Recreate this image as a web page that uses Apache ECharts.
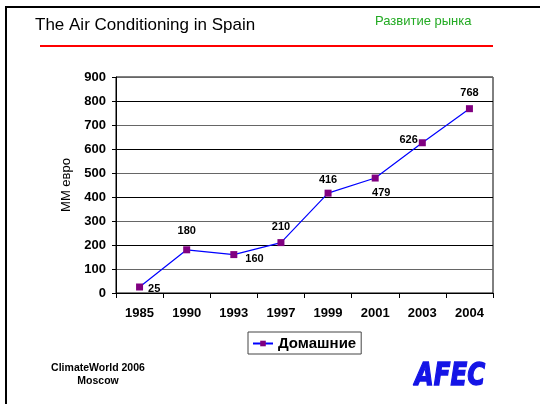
<!DOCTYPE html>
<html>
<head>
<meta charset="utf-8">
<script src="https://cdn.jsdelivr.net/npm/echarts@6/dist/echarts.min.js"></script>
<style>
  html, body { margin: 0; padding: 0; background: #fff; }
  #chart { width: 540px; height: 404px; }
</style>
</head>
<body>
<div id="chart"></div>
<script>
const years = ['1985', '1990', '1993', '1997', '1999', '2001', '2003', '2004']
const domestic = [25, 180, 160, 210, 416, 479, 626, 768]
const yTicks = { min: 0, max: 900, interval: 100 }

// where each value label sits relative to its point
const labelPlacement = [
  { position: 'right', offset: [0, 2] },
  { position: 'top', offset: [0, -5] },
  { position: 'right', offset: [3, 4] },
  { position: 'top', offset: [0, -2] },
  { position: 'top', offset: [0, 1] },
  { position: 'bottom', offset: [6, 1] },
  { position: 'left', offset: [4, -3] },
  { position: 'top', offset: [0, -2] },
]

const font = '"Liberation Sans", Arial, sans-serif'
const chart = echarts.init(document.getElementById('chart'))

chart.setOption({
  backgroundColor: '#fff',
  animation: false,
  textStyle: { fontFamily: font },
  grid: {
    left: 116, right: 47, top: 77, bottom: 111,
    show: true, borderColor: '#000', borderWidth: 1,
  },
  legend: {
    left: 248, top: 332,
    padding: [4, 5, 3, 4],
    borderColor: '#444', borderWidth: 1,
    itemWidth: 20, itemHeight: 7, itemGap: 4,
    textStyle: { fontFamily: font, fontSize: 15, fontWeight: 'bold', color: '#000' },
    data: ['Домашние'],
  },
  xAxis: {
    type: 'category',
    data: years,
    boundaryGap: true,
    axisLine: { lineStyle: { color: '#000', width: 1 } },
    axisTick: { show: true, length: 5, lineStyle: { color: '#000' } },
    axisLabel: { color: '#000', fontSize: 13, fontWeight: 'bold', margin: 14, interval: 0 },
  },
  yAxis: {
    type: 'value',
    ...yTicks,
    name: 'MM евро',
    nameLocation: 'middle',
    nameGap: 43,
    nameTextStyle: { color: '#000', fontSize: 13, fontFamily: font },
    axisLine: { show: true, lineStyle: { color: '#000', width: 1 } },
    axisTick: { show: true, length: 4, lineStyle: { color: '#000' } },
    axisLabel: { color: '#000', fontSize: 13, fontWeight: 'bold', margin: 10 },
    splitLine: { show: true, lineStyle: { color: ['#000', '#666'], width: 1 } },
  },
  series: [{
    name: 'Домашние',
    type: 'line',
    data: domestic.map((v, i) => ({
      value: v,
      label: { position: labelPlacement[i].position, offset: labelPlacement[i].offset },
    })),
    symbol: 'rect',
    symbolSize: 7,
    itemStyle: { color: '#800080' },
    lineStyle: { color: '#0000ff', width: 1.2 },
    label: { show: true, color: '#000', fontSize: 11, fontWeight: 'bold', fontFamily: font },
    emphasis: { disabled: true },
  }],
  graphic: [
    // slide frame
    { type: 'rect', shape: { x: 5, y: 6, width: 540, height: 2 }, style: { fill: '#000' } },
    { type: 'rect', shape: { x: 5, y: 6, width: 2, height: 404 }, style: { fill: '#000' } },
    {
      type: 'text', left: 35, top: 17,
      style: { text: 'The Air Conditioning in Spain', fontSize: 17, fontFamily: font, fill: '#000' },
    },
    {
      type: 'text', left: 375, top: 15,
      style: { text: 'Развитие рынка', fontSize: 13, fontFamily: font, fill: '#22aa22' },
    },
    { type: 'rect', shape: { x: 40, y: 45, width: 453, height: 2 }, style: { fill: '#ff0000' } },
    {
      type: 'text', x: 98, y: 375,
      style: {
        text: 'ClimateWorld 2006\nMoscow', fontSize: 10.5, fontWeight: 'bold', fontFamily: font,
        fill: '#000', align: 'center', verticalAlign: 'middle', lineHeight: 13,
      },
    },
    {
      type: 'text', x: 450, y: 377, scaleX: 0.72, scaleY: 0.95,
      style: {
        text: 'AFEC', fontSize: 34, fontWeight: 'bold', fontStyle: 'italic',
        fontFamily: '"DejaVu Sans", sans-serif', fill: '#1414e6',
        stroke: '#1414e6', lineWidth: 1.5,
        align: 'center', verticalAlign: 'middle',
      },
    },
  ],
})
</script>
</body>
</html>
